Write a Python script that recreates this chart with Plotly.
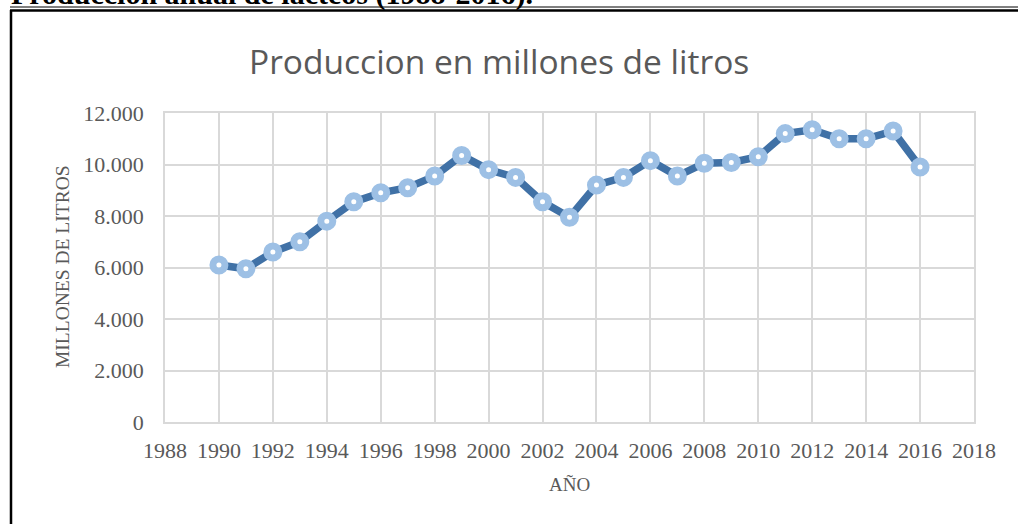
import plotly.graph_objects as go

# datos
anios = list(range(1990, 2017))
produccion = [6100, 5950, 6600, 7000, 7800, 8550, 8900, 9100, 9550, 10350,
              9800, 9500, 8550, 7950, 9200, 9500, 10150, 9550, 10050, 10080,
              10300, 11200, 11350, 11000, 11000, 11300, 9900]

y_ticks = [0, 2000, 4000, 6000, 8000, 10000, 12000]
y_tick_labels = ["0", "2.000", "4.000", "6.000", "8.000", "10.000", "12.000"]
x_ticks = list(range(1988, 2019, 2))

W, H = 1018, 524
L, R, T, B = 165, 44, 113, 102
pw, ph = W - L - R, H - T - B


def px(x):
    return (x - L) / pw


def py(y):
    return (H - B - y) / ph


fig = go.Figure()
fig.add_trace(
    go.Scatter(
        x=anios,
        y=produccion,
        mode="lines+markers",
        line=dict(color="#4071A6", width=7.5),
        marker=dict(size=12, color="white", line=dict(color="#9DC0E5", width=7)),
        showlegend=False,
    )
)

tick_font = dict(family="Liberation Serif", size=22, color="#595959")
gray = "#D9D9D9"

fig.update_layout(
    width=W,
    height=H,
    margin=dict(l=L, r=R, t=T, b=B),
    paper_bgcolor="white",
    plot_bgcolor="white",
    xaxis=dict(
        range=[1988, 2018],
        tickvals=x_ticks,
        tickfont=tick_font,
        showgrid=True,
        gridcolor=gray,
        gridwidth=1.5,
        showline=True,
        linecolor=gray,
        linewidth=1.5,
        mirror=True,
        zeroline=False,
        ticks="",
        ticklabelstandoff=8,
    ),
    yaxis=dict(
        range=[0, 12000],
        tickvals=y_ticks,
        ticktext=y_tick_labels,
        tickfont=tick_font,
        showgrid=True,
        gridcolor=gray,
        gridwidth=1.5,
        showline=True,
        linecolor=gray,
        linewidth=1.5,
        mirror=True,
        zeroline=False,
        ticks="",
        ticklabelstandoff=15,
    ),
    annotations=[
        dict(text="Produccion en millones de litros", x=px(499), y=py(61),
             xref="paper", yref="paper", showarrow=False,
             xanchor="center", yanchor="middle",
             font=dict(family="Open Sans", size=33.5, color="#595959")),
        dict(text="AÑO", x=px(569), y=py(484), xref="paper", yref="paper",
             showarrow=False, xanchor="center", yanchor="middle",
             font=dict(family="Liberation Serif", size=19, color="#595959")),
        dict(text="MILLONES DE LITROS", x=px(62), y=py(267), xref="paper",
             yref="paper", showarrow=False, textangle=-90,
             xanchor="center", yanchor="middle",
             font=dict(family="Liberation Serif", size=19.5, color="#595959")),
        # pie de figura del documento, cortado arriba como en el original
        dict(text="<b>Producción anual de lácteos (1988-2016).</b>", x=px(9), y=py(13),
             xref="paper", yref="paper", showarrow=False,
             xanchor="left", yanchor="bottom",
             font=dict(family="Liberation Serif", size=30, color="black")),
    ],
    shapes=[
        dict(type="line", xref="paper", yref="paper", x0=px(10), x1=px(1030),
             y0=py(7), y1=py(7), line=dict(color="black", width=1)),
        dict(type="line", xref="paper", yref="paper", x0=px(10), x1=px(1030),
             y0=py(10.5), y1=py(10.5), line=dict(color="black", width=2.5)),
        dict(type="line", xref="paper", yref="paper", x0=px(11), x1=px(11),
             y0=py(10), y1=py(540), line=dict(color="black", width=2.5)),
    ],
)

# quitar el margen del body para que la figura quede en 0,0
fig.write_html("out.html", config={"displayModeBar": False},
               post_script="document.body.style.margin='0';")
